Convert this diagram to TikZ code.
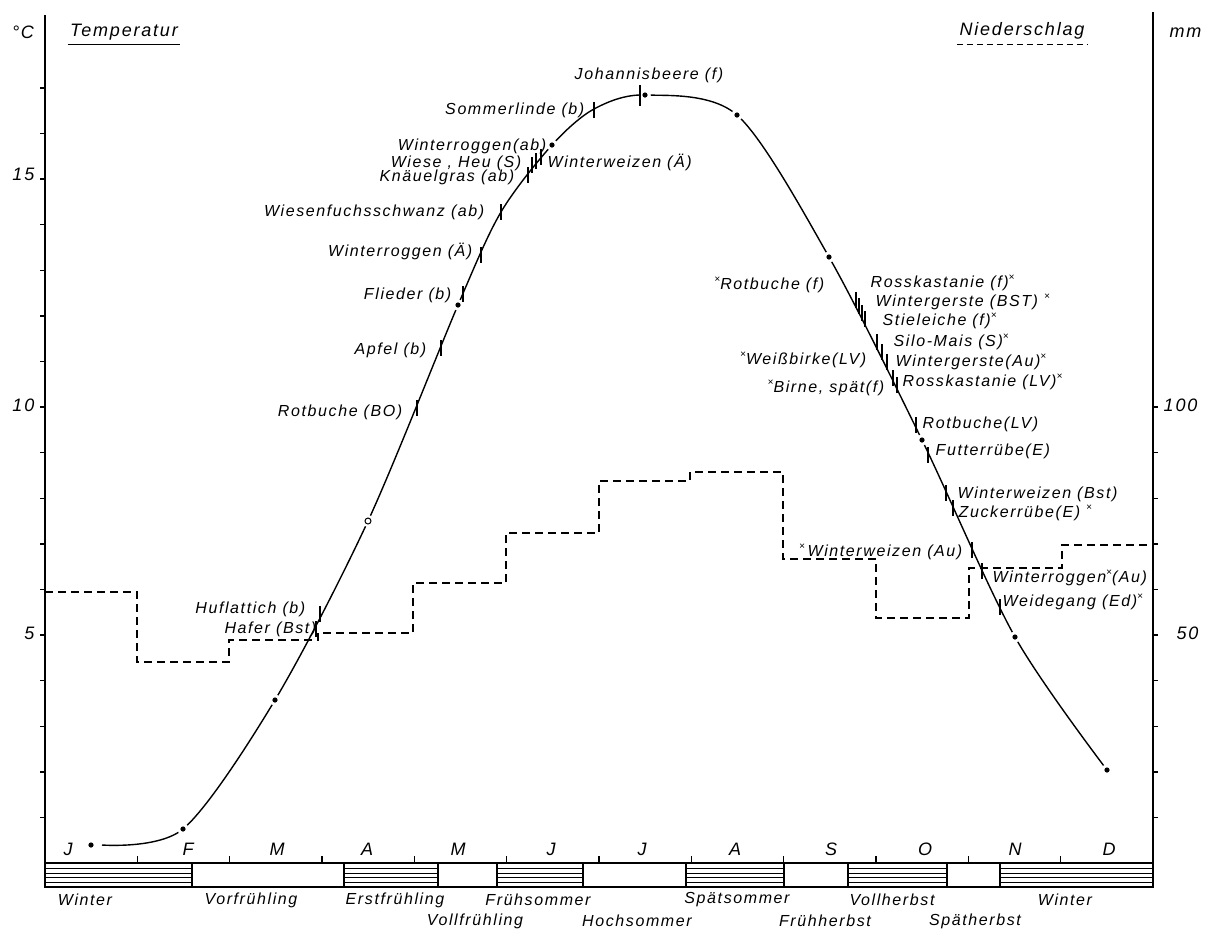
\documentclass[tikz,border=0pt]{standalone}
\usepackage{fontspec}
\setmainfont{Liberation Sans}[LetterSpace=10]
\newcommand\kreuz{\raisebox{.8ex}{\fontsize{5}{5}\selectfont ×}}

\begin{document}
\begin{tikzpicture}[x=0.5pt, y=-0.5pt, line width=0.7pt]

\tikzset{lab/.style = {font=\fontsize{8}{9}\selectfont\itshape, inner sep=1pt}}
\tikzset{big/.style = {font=\fontsize{9}{10}\selectfont\itshape, inner sep=1pt}}
\tikzset{dot/.style = {circle, inner sep=0pt, minimum size=2.6pt, fill=black, preaction={draw=white, line width=3pt}}}
\tikzset{ring/.style = {circle, draw, fill=white, line width=0.5pt, inner sep=0pt, minimum size=3pt, preaction={draw=white, line width=3pt}}}
\tikzset{hatch/.style = {line width=0.5pt}}

\useasboundingbox (0,0) rectangle (1206,934);

%axes
\draw (45,15) -- (45,887);
\draw (1153,12) -- (1153,887);
\foreach \k in {1,...,17} \draw (45,863-45.6*\k) -- ++(-5,0);
\foreach \k in {1,...,10} \draw (1153,863-45.6*\k) -- ++(5,0);
\foreach \k in {1,...,11} \draw (45+92.33*\k,863) -- ++(0,-7);
\node[big, anchor=east] (t15) at (37,174) {15};
\node[big, anchor=east] (t10) at (37,405) {10};
\node[big, anchor=east] (t5) at (37,633) {5};
\node[big, anchor=west] (p100) at (1161,405) {100};
\node[big, anchor=west] (p50) at (1174,633) {50};
\node[big] (grad) at (23,32) {°C};
\node[big, anchor=east] (mm) at (1204,33) {mm};
\node[big] (temp) at (124,32) {Temperatur};
\draw[line width=0.5pt] ([yshift=-1pt]temp.south west) -- ([yshift=-1pt]temp.south east);
\node[big] (nied) at (1022,31) {Niederschlag};
\draw[line width=0.5pt, dash pattern=on 3pt off 2pt] ([yshift=-1pt]nied.south west) -- ([yshift=-1pt]nied.south east);

%months
\foreach \m/\x in {J/68, F/188, M/277, A/367, M/458, J/551, J/642, A/735, S/831, O/925, N/1015, D/1109}
  \node[big] (mon\x) at (\x,849) {\m};

%seasons
\draw (45,863) rectangle (1153,887);
\foreach \a/\b in {45/192, 344/438, 497/583, 686/784, 848/947, 1000/1153} {
  \foreach \h in {868, 873, 877.5, 882} \draw[hatch] (\a,\h) -- (\b,\h);
  \draw (\a,863) -- (\a,887);
  \draw (\b,863) -- (\b,887);
}
\node[lab] (winter1) at (85,900) {Winter};
\node[lab] (vorfr) at (251,900) {Vorfrühling};
\node[lab] (erstfr) at (395,900) {Erstfrühling};
\node[lab] (fruehso) at (538,900) {Frühsommer};
\node[lab] (spaetso) at (737,900) {Spätsommer};
\node[lab] (vollhe) at (892,900) {Vollherbst};
\node[lab] (winter2) at (1065,900) {Winter};
\node[lab] (vollfr) at (475,921) {Vollfrühling};
\node[lab] (hochso) at (637,921) {Hochsommer};
\node[lab] (fruehhe) at (825,921) {Frühherbst};
\node[lab] (spaethe) at (975,921) {Spätherbst};

%precipitation
\draw[dash pattern=on 4pt off 2.5pt] (45,592) -- (137,592) -- (137,662) -- (229,662) -- (229,640)
  -- (318,640) -- (318,633) -- (413,633) -- (413,583) -- (506,583) -- (506,533) -- (599,533)
  -- (599,481) -- (690,481) -- (690,472) -- (783,472) -- (783,559) -- (876,559) -- (876,618)
  -- (969,618) -- (969,568) -- (1062,568) -- (1062,545) -- (1153,545);

%temperature
\draw plot[smooth, tension=0.5] coordinates {(102,845) (183,829) (275,700) (368,521) (458,305)
  (501,212) (552,145) (594,109) (645,95) (737,115) (829,257) (922,440) (1015,637) (1107,770)};
\foreach \i/\x/\y in {1/91/845, 2/183/829, 3/275/700, 5/458/305, 6/552/145, 7/645/95,
  8/737/115, 9/829/257, 10/922/440, 11/1015/637, 12/1107/770}
  \node[dot] (m\i) at (\x,\y) {};
\node[ring] (m4) at (368,521) {};

%phases
\draw (640,85) -- (640,106);
\foreach \x/\y in {594/110, 528/175, 532/165, 536/161, 541/157, 501/212, 481/255, 463/294,
  441/348, 417/408, 320/614, 316/629, 856/300, 859/306, 862/313, 865/319, 877/342, 882/352,
  887/362, 893/378, 897/385, 916/425, 928/455, 946/493, 953/508, 972/550, 982/571, 1000/607}
  \draw (\x,\y-8) -- (\x,\y+8);

\node[lab] (johannis) at (649,75) {Johannisbeere (f)};
\node[lab, anchor=east] (sommerlinde) at (587,110) {Sommerlinde (b)};
\node[lab, anchor=east] (roggenab) at (549,146) {Winterroggen(ab)};
\node[lab, anchor=east] (wiese) at (524,163) {Wiese , Heu (S)};
\node[lab, anchor=east] (knaeuel) at (517,177) {Knäuelgras (ab)};
\node[lab, anchor=east] (fuchs) at (487,212) {Wiesenfuchsschwanz (ab)};
\node[lab, anchor=east] (roggenae) at (475,251) {Winterroggen (Ä)};
\node[lab, anchor=east] (flieder) at (454,295) {Flieder (b)};
\node[lab, anchor=east] (apfel) at (429,350) {Apfel (b)};
\node[lab, anchor=east] (rotbo) at (405,412) {Rotbuche (BO)};
\node[lab, anchor=east] (huflattich) at (308,609) {Huflattich (b)};
\node[lab, anchor=east] (hafer) at (319,629) {Hafer (Bst)};
\node[lab, anchor=west] (weizenae) at (545,162) {Winterweizen (Ä)};

\node[lab, anchor=east] (rotf) at (827,285) {\kreuz Rotbuche (f)};
\node[lab, anchor=east] (birke) at (869,360) {\kreuz Weißbirke(LV)};
\node[lab, anchor=east] (birne) at (887,388) {\kreuz Birne, spät(f)};
\node[lab, anchor=east] (weizenau) at (965,552) {\kreuz\,Winterweizen (Au)};
\node[lab, anchor=west] (rosskf) at (868,283) {Rosskastanie (f)\kreuz};
\node[lab, anchor=west] (gerstebst) at (873,302) {Wintergerste (BST) \kreuz};
\node[lab, anchor=west] (stieleiche) at (880,321) {Stieleiche (f)\kreuz};
\node[lab, anchor=west] (silomais) at (891,342) {Silo-Mais (S)\kreuz};
\node[lab, anchor=west] (gersteau) at (893,362) {Wintergerste(Au)\kreuz};
\node[lab, anchor=west] (rosslv) at (900,382) {Rosskastanie (LV)\kreuz};
\node[lab, anchor=west] (rotlv) at (920,424) {Rotbuche(LV)};
\node[lab, anchor=west] (futter) at (933,451) {Futterrübe(E)};
\node[lab, anchor=west] (weizenbst) at (955,494) {Winterweizen (Bst)};
\node[lab, anchor=west] (zucker) at (956,513) {Zuckerrübe(E) \kreuz};
\node[lab, anchor=west] (roggenau) at (990,578) {Winterroggen\kreuz(Au)};
\node[lab, anchor=west] (weide) at (1000,602) {Weidegang (Ed)\kreuz};

\end{tikzpicture}
\end{document}
